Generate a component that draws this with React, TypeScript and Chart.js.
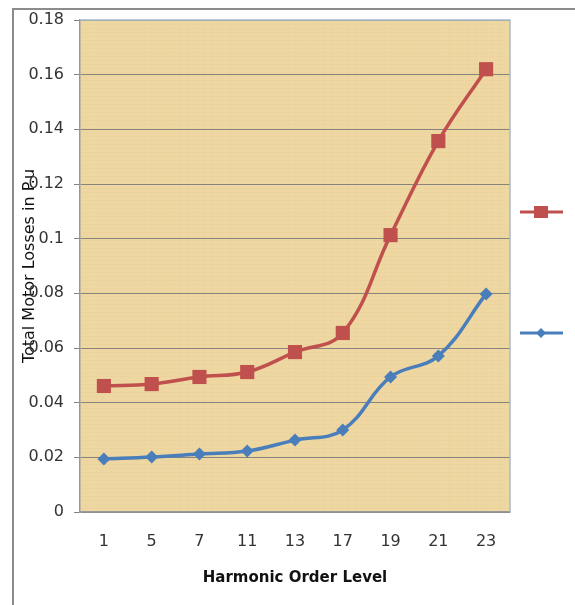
import React, { useEffect, useRef } from "react";
import { Chart, registerables } from "chart.js";

Chart.register(...registerables);

const categories = ["1", "5", "7", "11", "13", "17", "19", "21", "23"];
const seriesRed = [0.0461, 0.0468, 0.0494, 0.0512, 0.0585, 0.0655, 0.1013, 0.1357, 0.162];
const seriesBlue = [0.0194, 0.0201, 0.0212, 0.0223, 0.0263, 0.030, 0.0494, 0.0571, 0.0798];
const yTitle = "Total Motor Losses in P.u";
const xTitle = "Harmonic Order Level";

const RED = "#C0504D";
const BLUE = "#4A7EBB";
const FONT = "'DejaVu Sans', sans-serif";

const framePlugin = {
  id: "frame",
  beforeDraw(chart: any) {
    const { ctx, chartArea } = chart;
    ctx.save();
    ctx.strokeStyle = "#8c8c8c";
    ctx.lineWidth = 2;
    ctx.beginPath();
    ctx.moveTo(13, 605);
    ctx.lineTo(13, 9);
    ctx.lineTo(575, 9);
    ctx.stroke();
    const { left, top, right, bottom } = chartArea;
    ctx.fillStyle = "rgb(238,214,160)";
    ctx.fillRect(left, top, right - left, bottom - top);
    for (let x = left; x < right; x += 3) {
      const a = 0.05 + 0.05 * Math.abs(Math.sin(x * 0.37));
      ctx.fillStyle = `rgba(255,245,215,${a})`;
      ctx.fillRect(x, top, 1, bottom - top);
    }
    for (let y = top; y < bottom; y += 4) {
      const a = 0.03 + 0.03 * Math.abs(Math.sin(y * 0.53));
      ctx.fillStyle = `rgba(200,170,100,${a})`;
      ctx.fillRect(left, y, right - left, 1);
    }
    ctx.restore();
  },
  afterDatasetsDraw(chart: any) {
    const { ctx, chartArea } = chart;
    const { left, top, right, bottom } = chartArea;
    ctx.save();
    ctx.strokeStyle = "#a9bccb";
    ctx.lineWidth = 1.5;
    ctx.beginPath();
    ctx.moveTo(left, top);
    ctx.lineTo(right, top);
    ctx.lineTo(right, bottom);
    ctx.stroke();
    const items = [
      { y: 212, color: RED, style: "rect", r: 7 },
      { y: 333, color: BLUE, style: "rectRot", r: 5 },
    ];
    items.forEach((it) => {
      ctx.strokeStyle = it.color;
      ctx.lineWidth = 3;
      ctx.beginPath();
      ctx.moveTo(520, it.y);
      ctx.lineTo(563, it.y);
      ctx.stroke();
      ctx.fillStyle = it.color;
      ctx.beginPath();
      if (it.style === "rect") {
        ctx.rect(541 - it.r, it.y - 6, it.r * 2, 12);
      } else {
        ctx.moveTo(541, it.y - it.r);
        ctx.lineTo(541 + it.r, it.y);
        ctx.lineTo(541, it.y + it.r);
        ctx.lineTo(541 - it.r, it.y);
        ctx.closePath();
      }
      ctx.fill();
    });
    ctx.restore();
  },
};

export default function App() {
  const ref = useRef<HTMLCanvasElement | null>(null);
  useEffect(() => {
    if (!ref.current) return;
    const chart = new Chart(ref.current, {
      type: "line",
      data: {
        labels: categories,
        datasets: [
          {
            label: "Series 2",
            data: seriesRed,
            borderColor: RED,
            backgroundColor: RED,
            borderWidth: 3.5,
            tension: 0.4,
            pointStyle: "rect",
            pointRadius: 10,
            pointBorderWidth: 0,
          },
          {
            label: "Series 1",
            data: seriesBlue,
            borderColor: BLUE,
            backgroundColor: BLUE,
            borderWidth: 3.5,
            tension: 0.4,
            pointStyle: "rectRot",
            pointRadius: 6.5,
            pointBorderWidth: 0,
          },
        ],
      },
      options: {
        animation: false,
        responsive: false,
        maintainAspectRatio: false,
        layout: { padding: { left: 0, top: 20, right: 65, bottom: 0 } },
        plugins: { legend: { display: false }, tooltip: { enabled: false } },
        scales: {
          x: {
            offset: true,
            grid: { display: true, drawOnChartArea: false, drawTicks: false },
            border: { display: true, color: "#999999", width: 1.5 },
            ticks: { color: "#333333", font: { family: FONT, size: 16 }, padding: 20, maxRotation: 0 },
            title: { display: true, text: xTitle, color: "#111111", font: { family: FONT, size: 15, weight: "bold" }, padding: 18 },
            afterFit: (s: any) => { s.height = 93; },
          },
          y: {
            min: 0,
            max: 0.18,
            ticks: {
              stepSize: 0.02,
              color: "#333333",
              font: { family: FONT, size: 16 },
              padding: 10,
              callback: (v: any) => String(Math.round(Number(v) * 100) / 100),
            },
            grid: { color: "#86847c", lineWidth: 1, tickLength: 6, drawTicks: true },
            border: { display: true, color: "#999999", width: 1.5 },
            title: { display: true, text: yTitle, color: "#111111", font: { family: FONT, size: 16 }, padding: { top: 20, bottom: 0 } },
            afterFit: (s: any) => { s.width = 80; },
          },
        },
      },
      plugins: [framePlugin],
    });
    return () => chart.destroy();
  }, []);
  return (
    <div style={{ position: "absolute", left: 0, top: 0, width: 575, height: 605, background: "#ffffff" }}>
      <canvas ref={ref} width={575} height={605} style={{ width: 575, height: 605, display: "block" }} />
    </div>
  );
}
